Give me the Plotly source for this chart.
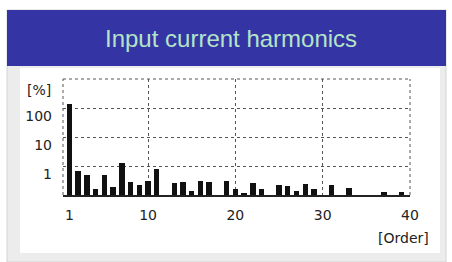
import plotly.graph_objects as go

orders = list(range(1, 41))
harmonics_pct = [137, 0.69, 0.48, 0.16, 0.48, 0.19, 1.3, 0.29, 0.22, 0.31,
                 0.78, None, 0.25, 0.28, 0.14, 0.31, 0.28, None, 0.31, 0.16,
                 0.12, 0.25, 0.16, None, 0.22, 0.21, 0.14, 0.24, 0.16, None,
                 0.22, None, 0.18, None, None, None, 0.13, None, 0.13, None]
x_tick_vals = [1, 10, 20, 30, 40]
x_tick_text = ["1", "10", "20", "30", "40"]
y_tick_vals = [1, 10, 100]
y_tick_text = ["1", "10", "100"]

W, H = 452, 262
ML, MR, MT, MB = 63, 42, 79, 67
PW, PH = W - ML - MR, H - MT - MB


def px_x(p):
    return (p - ML) / PW


def px_y(p):
    return (H - MB - p) / PH


fig = go.Figure()
fig.add_trace(go.Bar(x=orders, y=harmonics_pct, width=0.62,
                     marker=dict(color="#111111", line=dict(width=0))))

grid = dict(color="#555555", width=1, dash="dot")
shapes = [
    # outer panel
    dict(type="rect", xref="paper", yref="paper", layer="below",
         x0=px_x(7), x1=px_x(446), y0=px_y(10), y1=px_y(262),
         fillcolor="#ececec", line=dict(color="#d4d4d4", width=1)),
    # inner white area
    dict(type="rect", xref="paper", yref="paper", layer="below",
         x0=px_x(20), x1=px_x(440), y0=px_y(68), y1=px_y(253),
         fillcolor="#ffffff", line=dict(width=0)),
    # title bar
    dict(type="rect", xref="paper", yref="paper", layer="below",
         x0=px_x(7), x1=px_x(446), y0=px_y(10), y1=px_y(66),
         fillcolor="#3434a4", line=dict(width=0)),
    # dotted frame: left, top, right
    dict(type="line", xref="paper", yref="paper", layer="below",
         x0=0, x1=0, y0=0, y1=1, line=grid),
    dict(type="line", xref="paper", yref="paper", layer="below",
         x0=0, x1=1, y0=1, y1=1, line=grid),
    dict(type="line", xref="paper", yref="paper", layer="below",
         x0=1, x1=1, y0=0, y1=1, line=grid),
]

annotations = [
    dict(text="Input current harmonics", xref="paper", yref="paper",
         x=px_x(231), y=px_y(38), showarrow=False, xanchor="center", yanchor="middle",
         font=dict(family="Liberation Sans, Arial", size=24, color="#b4e4c8")),
    dict(text="[%]", xref="paper", yref="paper",
         x=px_x(53), y=px_y(90), showarrow=False, xanchor="right", yanchor="middle",
         font=dict(family="DejaVu Sans", size=14, color="#222222")),
    dict(text="[Order]", xref="paper", yref="paper",
         x=px_x(431), y=px_y(238), showarrow=False, xanchor="right", yanchor="middle",
         font=dict(family="DejaVu Sans", size=14, color="#222222")),
]

fig.update_layout(
    width=W, height=H,
    margin=dict(l=ML, r=MR, t=MT, b=MB, pad=0),
    paper_bgcolor="#ffffff", plot_bgcolor="rgba(0,0,0,0)",
    showlegend=False, bargap=0,
    shapes=shapes, annotations=annotations,
    font=dict(family="DejaVu Sans", size=14, color="#222222"),
)
fig.update_xaxes(range=[0.26, 40], tickvals=x_tick_vals, ticktext=x_tick_text,
                 showgrid=False, zeroline=False, ticks="",
                 showline=True, linecolor="#222222", linewidth=2,
                 ticklabelstandoff=6,
                 minor=dict(tickvals=[10, 20, 30], showgrid=True,
                            gridcolor="#555555", gridwidth=1, griddash="dot", ticks=""))
fig.update_yaxes(type="log", range=[-1, 3], tickvals=y_tick_vals, ticktext=y_tick_text,
                 showgrid=True, gridcolor="#555555", gridwidth=1, griddash="dot",
                 zeroline=False, ticks="", showline=False,
                 ticklabelstandoff=10, ticklabelshift=8)

fig.write_html("out.html", config={"displayModeBar": False},
               post_script="document.body.style.margin='0';document.body.style.overflow='hidden';")
